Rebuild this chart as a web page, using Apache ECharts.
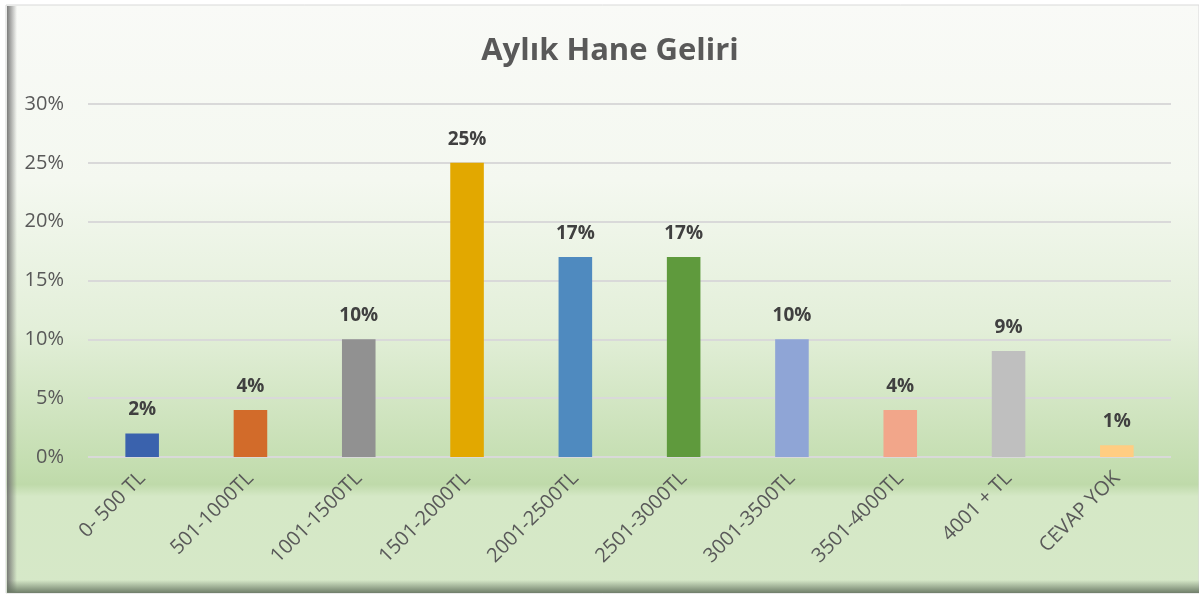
<!DOCTYPE html>
<html>
<head>
<meta charset="utf-8">
<script src="https://cdn.jsdelivr.net/npm/echarts@6/dist/echarts.min.js"></script>
<style>
    html, body { margin: 0; padding: 0; background: #fff; }
    #chart { width: 1199px; height: 597px; }
</style>
</head>
<body>
<div id="chart"></div>
<script>
; (function () {

    // data
    var categories = ['0- 500 TL', '501-1000TL', '1001-1500TL', '1501-2000TL', '2001-2500TL',
        '2501-3000TL', '3001-3500TL', '3501-4000TL', '4001 + TL', 'CEVAP YOK'];
    var values = [2, 4, 10, 25, 17, 17, 10, 4, 9, 1];
    var barColors = ['#3a62ad', '#d26b2a', '#919191', '#e2a800', '#4f8abf',
        '#5f9a3d', '#8fa5d6', '#f2a68a', '#bfbfbf', '#ffcd82'];
    var yTicks = [0, 5, 10, 15, 20, 25, 30];

    var myChart = echarts.init(document.getElementById('chart'));
    var font = '"Open Sans", "Liberation Sans", sans-serif';

    var option = {
        animation: false,
        graphic: [
            {   // frame with green gradient
                type: 'rect', z: -10, silent: true,
                shape: { x: 6, y: 5, width: 1193, height: 588 },
                style: {
                    stroke: '#d9d9d9', lineWidth: 1,
                    fill: {
                        type: 'linear', x: 0, y: 0, x2: 0, y2: 1,
                        colorStops: [
                            { offset: 0, color: '#f9faf7' },
                            { offset: 0.3, color: '#f4f8f0' },
                            { offset: 0.55, color: '#e3efd9' },
                            { offset: 0.79, color: '#c3ddaf' },
                            { offset: 0.815, color: '#bfdaaa' },
                            { offset: 0.835, color: '#d5e8c6' },
                            { offset: 1, color: '#d6e8c8' }
                        ]
                    }
                }
            },
            {   // left shadow
                type: 'rect', z: -9, silent: true,
                shape: { x: 7, y: 6, width: 10, height: 586 },
                style: {
                    fill: {
                        type: 'linear', x: 0, y: 0, x2: 1, y2: 0,
                        colorStops: [
                            { offset: 0, color: 'rgba(110,110,110,0.9)' },
                            { offset: 1, color: 'rgba(110,110,110,0)' }
                        ]
                    }
                }
            },
            {   // bottom shadow
                type: 'rect', z: -9, silent: true,
                shape: { x: 7, y: 580, width: 1192, height: 13 },
                style: {
                    fill: {
                        type: 'linear', x: 0, y: 0, x2: 0, y2: 1,
                        colorStops: [
                            { offset: 0, color: 'rgba(100,115,95,0)' },
                            { offset: 1, color: 'rgba(100,115,95,0.9)' }
                        ]
                    }
                }
            }
        ],
        title: {
            text: 'Aylık Hane Geliri',
            left: 605,
            textAlign: 'center',
            top: 31,
            textStyle: { fontFamily: font, fontSize: 31, fontWeight: 'bold', color: '#595959' }
        },
        grid: { left: 88, right: 28, top: 104, bottom: 140 },
        xAxis: {
            type: 'category',
            data: categories,
            axisLine: { show: false },
            axisTick: { show: false },
            axisLabel: {
                interval: 0,
                rotate: 45,
                margin: 18,
                fontFamily: font,
                fontSize: 20,
                color: '#595959'
            }
        },
        yAxis: {
            type: 'value',
            min: yTicks[0],
            max: yTicks[yTicks.length - 1],
            interval: 5,
            axisLine: { show: false },
            axisTick: { show: false },
            axisLabel: {
                margin: 24,
                fontFamily: font,
                fontSize: 20,
                color: '#595959',
                formatter: '{value}%'
            },
            splitLine: { lineStyle: { color: '#d9d9d9', width: 2 } }
        },
        series: [
            {
                type: 'bar',
                barWidth: '31%',
                data: values.map(function (v, i) {
                    return { value: v, itemStyle: { color: barColors[i] } };
                }),
                label: {
                    show: true,
                    position: 'top',
                    distance: 14,
                    formatter: '{c}%',
                    fontFamily: font,
                    fontSize: 19,
                    fontWeight: 'bold',
                    color: '#404040'
                }
            }
        ]
    };

    myChart.setOption(option);
}());
</script>
</body>
</html>
